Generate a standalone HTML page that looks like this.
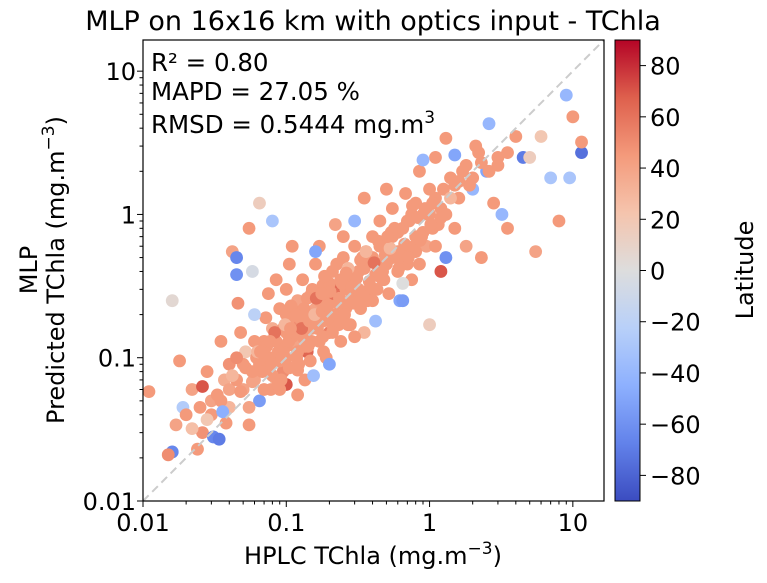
<!DOCTYPE html>
<html><head><meta charset="utf-8"><style>
body{margin:0;background:#fff}
svg{display:block;font-family:"DejaVu Sans","Liberation Sans",sans-serif}
</style></head><body>
<svg id="c" width="767" height="583">
<text x="373" y="30" font-size="27" text-anchor="middle">MLP on 16x16 km with optics input - TChla</text>
<g id="pts"></g>
<line x1="143" y1="501" x2="604" y2="40" stroke="#cccccc" stroke-width="2" stroke-dasharray="8,5"/>
<rect x="143" y="40" width="461" height="461" fill="none" stroke="#000" stroke-width="1.2"/>
<g id="ax"></g>
<text x="151" y="71" font-size="24.5">R² = 0.80</text>
<text x="151" y="100" font-size="24.5">MAPD = 27.05 %</text>
<text x="151" y="133" font-size="24.5">RMSD = 0.5444 mg.m<tspan dy="-10" font-size="17">3</tspan></text>
<text x="373" y="564" font-size="24" text-anchor="middle">HPLC TChla (mg.m<tspan dy="-10" font-size="17">−3</tspan><tspan dy="10">)</tspan></text>
<text transform="translate(37,270) rotate(-90)" font-size="24" text-anchor="middle">MLP</text>
<text transform="translate(64,270) rotate(-90)" font-size="24" text-anchor="middle">Predicted TChla (mg.m<tspan dy="-10" font-size="17">−3</tspan><tspan dy="10">)</tspan></text>
<defs><linearGradient id="cw" x1="0" y1="1" x2="0" y2="0">
<stop offset="0" stop-color="rgb(59,76,192)"/><stop offset="0.125" stop-color="rgb(98,130,234)"/><stop offset="0.25" stop-color="rgb(141,176,254)"/><stop offset="0.375" stop-color="rgb(184,208,249)"/><stop offset="0.5" stop-color="rgb(221,221,221)"/><stop offset="0.625" stop-color="rgb(245,196,173)"/><stop offset="0.75" stop-color="rgb(244,154,123)"/><stop offset="0.875" stop-color="rgb(222,96,77)"/><stop offset="1" stop-color="rgb(180,4,38)"/>
</linearGradient></defs>
<rect x="615" y="40" width="25" height="461" fill="url(#cw)" stroke="#000" stroke-width="1"/>
<g id="cb"></g>
<text transform="translate(753,270) rotate(-90)" font-size="24" text-anchor="middle">Latitude</text>
</svg>
<script>
const hplc=[0.011,0.016,0.016,0.015,0.017,0.018,0.019,0.02,0.022,0.024,0.026,0.026,0.028,0.03,0.031,0.034,0.035,0.037,0.04,0.04,0.042,0.045,0.045,0.046,0.048,0.05,0.052,0.055,0.058,0.06,0.065,0.062,0.065,0.07,0.07,0.072,0.075,0.078,0.08,0.08,0.085,0.085,0.09,0.09,0.095,0.1,0.1,0.1,0.1,0.105,0.11,0.11,0.115,0.12,0.12,0.125,0.13,0.13,0.135,0.14,0.14,0.15,0.15,0.155,0.16,0.16,0.17,0.17,0.18,0.18,0.19,0.2,0.2,0.21,0.22,0.22,0.23,0.24,0.25,0.26,0.27,0.28,0.3,0.3,0.32,0.33,0.35,0.35,0.37,0.38,0.4,0.4,0.42,0.45,0.45,0.48,0.5,0.52,0.55,0.55,0.6,0.6,0.62,0.65,0.68,0.7,0.7,0.75,0.8,0.8,0.85,0.85,0.9,0.95,1.0,1.0,1.05,1.1,1.2,1.2,1.3,1.4,1.5,1.5,1.6,1.8,1.8,2.0,2.1,2.3,2.5,2.6,2.8,3.0,3.2,3.5,3.5,4.0,4.5,5.0,5.5,6.0,7.0,8.0,9.0,9.5,10,11.5,11.5,1.3,0.9,0.65,0.3,0.08,0.16,0.05,0.055,0.06,0.065,0.07,0.075,0.08,0.085,0.09,0.095,0.1,0.105,0.11,0.115,0.12,0.13,0.135,0.14,0.15,0.16,0.17,0.18,0.19,0.2,0.21,0.23,0.25,0.26,0.28,0.3,0.32,0.35,0.37,0.4,0.42,0.45,0.5,0.55,0.6,0.65,0.7,0.75,0.8,0.9,1.0,1.1,1.3,1.5,1.7,2.0,2.3,0.03,0.035,0.04,0.045,0.038,0.025,0.028,0.022,0.045,0.06,0.1,0.25,0.5,1.1,0.3,0.12,0.055,0.09,0.2,
0.033,0.036,0.042,0.048,0.052,0.058,0.063,0.068,0.073,0.079,0.083,0.088,0.093,0.098,0.104,0.108,0.113,0.118,0.124,0.128,0.133,0.138,0.145,0.152,0.158,0.165,0.172,0.178,0.185,0.195,0.205,0.215,0.225,0.235,0.245,0.255,0.27,0.285,0.31,0.33,0.345,0.36,0.38,0.41,0.44,0.47,0.49,0.53,0.57,0.62,0.67,0.72,0.78,0.83,0.88,0.93,1.05,1.15,1.25,1.4,1.6,1.9,2.2,2.6,3.0,0.066,0.077,0.092,0.107,0.122,0.142,0.162,0.182,0.202,0.232,0.262,0.292,0.34,0.39,0.46,0.54,0.64,0.76,0.058,0.087,0.117,0.147,0.177,0.21,0.24,0.27,0.32,0.36,0.43,0.51,0.61,0.71,0.86,1.02,1.2];
const mlp=[0.058,0.25,0.022,0.021,0.034,0.095,0.045,0.04,0.06,0.023,0.03,0.063,0.08,0.05,0.028,0.027,0.13,0.07,0.09,0.045,0.55,0.5,0.38,0.24,0.15,0.06,0.11,0.8,0.4,0.07,1.2,0.1,0.05,0.13,0.085,0.19,0.28,0.06,0.1,0.16,0.35,0.07,0.12,0.22,0.08,0.15,0.1,0.065,0.3,0.45,0.6,0.19,0.12,0.082,0.25,0.17,0.14,0.35,0.07,0.2,0.11,0.28,0.16,0.075,0.45,0.22,0.13,0.6,0.32,0.18,0.1,0.25,0.15,0.4,0.2,0.85,0.3,0.13,0.5,0.22,0.35,0.17,0.28,0.6,0.4,0.22,1.3,0.15,0.5,0.3,0.7,0.25,0.18,0.45,0.9,0.35,0.6,0.28,1.1,0.5,0.4,0.75,0.25,0.25,1.4,0.55,0.9,0.35,1.2,0.7,0.45,2.0,1.0,0.6,1.5,0.17,0.8,2.5,1.1,0.4,0.5,1.8,0.8,2.6,1.3,0.6,2.2,1.5,3.0,0.5,2.0,4.3,1.2,2.5,1.0,2.7,0.8,3.5,2.5,2.5,0.55,3.5,1.8,0.9,6.8,1.8,4.8,2.7,3.2,3.4,2.4,0.33,0.9,0.9,0.55,0.09,0.045,0.13,0.09,0.06,0.1,0.075,0.13,0.095,0.16,0.12,0.085,0.14,0.21,0.11,0.18,0.12,0.26,0.13,0.17,0.25,0.14,0.21,0.33,0.17,0.24,0.19,0.3,0.25,0.38,0.3,0.42,0.25,0.5,0.38,0.6,0.45,0.7,0.55,0.8,0.45,1.0,0.55,0.75,1.0,1.3,1.0,1.6,2.0,1.8,2.3,0.04,0.05,0.06,0.07,0.035,0.045,0.037,0.032,0.1,0.2,0.2,0.7,1.5,0.6,0.14,0.055,0.034,0.06,0.09,
0.055,0.042,0.075,0.058,0.085,0.068,0.11,0.08,0.12,0.09,0.15,0.11,0.1,0.17,0.13,0.23,0.15,0.1,0.19,0.16,0.22,0.13,0.18,0.3,0.2,0.16,0.27,0.21,0.37,0.23,0.19,0.28,0.45,0.26,0.33,0.2,0.42,0.31,0.36,0.48,0.27,0.55,0.34,0.46,0.65,0.4,0.52,0.58,0.8,0.48,0.62,0.9,0.6,0.95,0.7,1.1,1.2,0.85,1.5,1.3,1.7,1.6,2.7,2.0,2.2,0.11,0.13,0.07,0.16,0.09,0.12,0.26,0.11,0.29,0.17,0.39,0.24,0.5,0.31,0.36,0.75,0.45,1.15,0.08,0.065,0.2,0.095,0.28,0.15,0.35,0.17,0.24,0.55,0.3,0.7,0.42,0.5,0.66,0.85,0.95];
const lats=[45,5,-65,50,40,45,-25,45,40,45,48,70,45,40,-65,-70,45,35,48,30,40,-65,-60,48,45,40,20,45,-5,40,15,45,-55,45,40,45,45,45,45,35,45,30,45,45,50,45,45,70,45,45,45,45,40,45,40,50,45,45,45,45,65,45,45,-35,45,40,45,45,45,45,45,45,55,45,45,40,65,45,45,45,45,45,45,45,45,45,45,30,45,45,45,45,-35,45,45,45,45,45,45,45,45,45,-50,-55,45,45,45,45,45,45,45,45,45,40,45,15,45,45,45,70,-60,45,45,-50,45,40,45,-40,45,45,-50,-40,45,45,-40,45,45,45,-70,15,40,20,-30,45,-40,-30,45,-75,45,45,-40,0,-40,-30,-50,45,40,45,45,45,45,45,45,45,45,45,45,45,45,45,45,45,45,45,45,45,45,45,45,45,45,45,45,45,45,45,45,45,45,45,45,45,45,45,45,45,45,45,45,45,45,45,45,45,45,45,45,45,40,45,45,45,20,25,50,-20,45,45,45,45,45,45,45,45,-50,45,-45,
30,45,45,40,30,45,45,45,60,45,45,30,45,45,45,45,45,60,45,45,45,45,30,45,45,45,45,45,45,60,45,45,45,45,30,45,45,45,45,45,45,60,45,45,45,30,45,45,45,45,45,45,45,45,45,45,45,30,45,45,45,45,45,45,45,45,45,45,45,60,45,45,45,45,45,45,45,45,45,45,45,45,45,45,45,45,45,45,45,45,30,45,45,45,45,45,45,45];
const xTicks=[0.01,0.1,1,10], xTickLabels=["0.01","0.1","1","10"];
const cbTicks=[-80,-60,-40,-20,0,20,40,60,80];
const L=143,T=40,S=461,lmin=-2,lmax=Math.log10(16.5);
const xs=v=>L+(Math.log10(v)-lmin)/(lmax-lmin)*S;
const ys=v=>T+S-(Math.log10(v)-lmin)/(lmax-lmin)*S;
const cbY=v=>501-(v+90)/180*461;
const stops=[[59,76,192],[98,130,234],[141,176,254],[184,208,249],[221,221,221],[245,196,173],[244,154,123],[222,96,77],[180,4,38]];
function cmap(lat){let t=Math.max(0,Math.min(1,(lat+90)/180))*8;let i=Math.min(7,Math.floor(t)),f=t-i;let a=stops[i],b=stops[i+1];return `rgb(${a.map((c,k)=>Math.round(c+(b[k]-c)*f)).join(',')})`;}
const NS="http://www.w3.org/2000/svg";
const g=document.getElementById('pts');
for(let i=0;i<hplc.length;i++){
const c=document.createElementNS(NS,'circle');
c.setAttribute('cx',xs(hplc[i]));c.setAttribute('cy',ys(mlp[i]));c.setAttribute('r',6.4);c.setAttribute('fill',cmap(lats[i]));


g.appendChild(c);}
const ax=document.getElementById('ax');
function ln(x1,y1,x2,y2,w){const l=document.createElementNS(NS,'line');l.setAttribute('x1',x1);l.setAttribute('y1',y1);l.setAttribute('x2',x2);l.setAttribute('y2',y2);l.setAttribute('stroke','#000');l.setAttribute('stroke-width',w||1);


ax.appendChild(l);}
function tx(parent,x,y,s,anchor,name){const t=document.createElementNS(NS,'text');t.setAttribute('x',x);t.setAttribute('y',y);t.setAttribute('font-size','24');t.setAttribute('text-anchor',anchor);t.textContent=s;


parent.appendChild(t);}
for(let d=-2;d<=1;d++){for(let m=1;m<10;m++){const v=m*Math.pow(10,d);if(Math.log10(v)>lmax)break;const big=m===1;
ln(xs(v),501,xs(v),501+(big?6:3.5));ln(143,ys(v),143-(big?6:3.5),ys(v));}}
xTicks.forEach((v,i)=>{tx(ax,xs(v),531,xTickLabels[i],'middle','x-tick-label');tx(ax,136,ys(v)+9,xTickLabels[i],'end','y-tick-label');});
const cb=document.getElementById('cb');
cbTicks.forEach(v=>{const l=document.createElementNS(NS,'line');l.setAttribute('x1',640);l.setAttribute('x2',646);l.setAttribute('y1',cbY(v));l.setAttribute('y2',cbY(v));l.setAttribute('stroke','#000');


cb.appendChild(l);tx(cb,650,cbY(v)+9,v<0?'−'+(-v):String(v),'start','colorbar-tick-label');});
</script>
</body></html>
